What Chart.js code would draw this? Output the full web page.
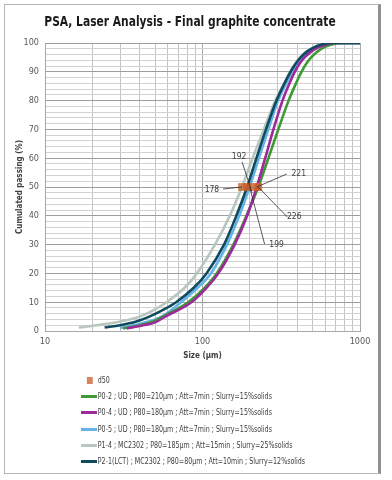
<!DOCTYPE html>
<html>
<head>
<meta charset="utf-8">
<script src="https://cdn.jsdelivr.net/npm/chart.js@4.4.1/dist/chart.umd.min.js"></script>
<style>
  html, body { margin: 0; padding: 0; background: #fff; }
  #wrap { position: relative; width: 392px; height: 480px; }
  #frame { position: absolute; left: 4px; top: 4px; width: 373px; height: 468px;
           border: 1px solid #b5b5b5; border-right: 3px solid #8f8f8f; pointer-events: none; }
  #title { position: absolute; left: -10px; top: 12px; width: 400px; text-align: center; white-space: nowrap;
           font-family: 'Liberation Sans Narrow', 'DejaVu Sans Condensed', Roboto, sans-serif;
           font-size: 14.5px; font-weight: bold; color: #1a1a1a; line-height: 18px;
           transform: scaleX(0.82); transform-origin: 200px 0; }
  #legend { position: absolute; left: 0; top: 0; width: 392px; height: 480px; pointer-events: none;
            font-family: 'Liberation Sans Narrow', 'DejaVu Sans Condensed', Roboto, sans-serif;
            font-size: 8.4px; color: #404040; }
  .row { position: absolute; left: 81px; height: 12px; line-height: 12px; white-space: nowrap;
         transform: scaleX(0.84); transform-origin: 0 0; }
  .swatch { display: inline-block; width: 19px; height: 3px; vertical-align: middle; margin-right: 1px; }
  .square { display: inline-block; width: 7px; height: 7px; margin: 0 6px 0 7px; vertical-align: middle; }
</style>
</head>
<body>
<div id="wrap">
  <canvas id="psa" width="392" height="480"></canvas>
  <div id="title">PSA, Laser Analysis - Final graphite concentrate</div>
  <div id="legend"></div>
  <div id="frame"></div>
</div>
<script>
'use strict';

// Particle size (um) vs cumulated passing (%)
var p02Size = [31.3, 40, 48, 56, 81, 103, 123, 157, 190, 226, 262, 303, 352, 385, 425, 458, 490, 535, 590, 660, 760, 1000];
var p02Pass = [0.9, 2, 3.2, 5, 10, 15, 20, 30, 40, 50, 60, 70, 80, 85, 90, 93, 95, 97, 98.5, 99.5, 100, 100];

var p04Size = [33, 42, 50, 58, 85, 106, 126, 160, 192, 221, 250, 282, 322, 350, 385, 415, 445, 490, 545, 610, 700, 1000];
var p04Pass = [0.9, 2, 3, 5, 10, 15, 20, 30, 40, 50, 60, 70, 80, 85, 90, 93, 95, 97, 98.5, 99.5, 100, 100];

var p05Size = [30, 40, 55, 73, 93, 113, 143, 171, 199, 228, 262, 302, 333, 370, 400, 430, 470, 520, 580, 660, 1000];
var p05Pass = [1, 2.5, 5, 10, 15, 20, 30, 40, 50, 60, 70, 80, 85, 90, 93, 95, 97, 98.5, 99.5, 100, 100];

var p14Size = [16.4, 22, 30, 40, 50, 59, 77, 92, 120, 149, 178, 208, 245, 290, 322, 360, 390, 418, 458, 508, 568, 650, 1000];
var p14Pass = [1.2, 2.1, 3.3, 5, 7.5, 10, 15, 20, 30, 40, 50, 60, 70, 80, 85, 90, 93, 95, 97, 98.5, 99.5, 100, 100];

var p21Size = [23.9, 30, 38, 46, 57, 68, 88, 106, 137, 164, 192, 220, 253, 295, 325, 362, 392, 420, 460, 510, 570, 650, 1000];
var p21Pass = [1.2, 2, 3.3, 5, 7.5, 10, 15, 20, 30, 40, 50, 60, 70, 80, 85, 90, 93, 95, 97, 98.5, 99.5, 100, 100];

var d50Values = [178, 192, 199, 221, 226];

var xTickValues = [10, 20, 30, 40, 50, 60, 70, 80, 90, 100, 200, 300, 400, 500, 600, 700, 800, 900, 1000];
var xTickLabels = [10, 100, 1000];

var seriesNames = [
  'P0-2 ; UD ; P80=210\u00b5m ; Att=7min ; Slurry=15%solids',
  'P0-4 ; UD ; P80=180\u00b5m ; Att=7min ; Slurry=15%solids',
  'P0-5 ; UD ; P80=180\u00b5m ; Att=7min ; Slurry=15%solids',
  'P1-4 ; MC2302 ; P80=185\u00b5m ; Att=15min ; Slurry=25%solids',
  'P2-1(LCT) ; MC2302 ; P80=80\u00b5m ; Att=10min ; Slurry=12%solids'
];

var FONT = "'Liberation Sans Narrow', 'DejaVu Sans Condensed', Roboto, sans-serif";
var seriesColors = ['#3d9a34', '#9c2a9c', '#64b2e6', '#b7c6be', '#0f4a5e'];
var markerColor = 'rgba(200, 92, 40, 0.75)';

function toPoints(xs, ys) {
  return xs.map(function (x, i) { return { x: x, y: ys[i] }; });
}

var curves = [
  toPoints(p02Size, p02Pass),
  toPoints(p04Size, p04Pass),
  toPoints(p05Size, p05Pass),
  toPoints(p14Size, p14Pass),
  toPoints(p21Size, p21Pass)
];
// draw order: gray lowest, dark teal on top
var drawOrder = [3, 2, 4, 5, 1];

var datasets = curves.map(function (pts, i) {
  return {
    label: seriesNames[i],
    data: pts,
    showLine: true,
    borderColor: seriesColors[i],
    backgroundColor: seriesColors[i],
    borderWidth: 2.6,
    pointRadius: 0,
    cubicInterpolationMode: 'monotone',
    order: drawOrder[i]
  };
});

datasets.push({
  label: 'd50',
  data: d50Values.map(function (v) { return { x: v, y: 50 }; }),
  showLine: false,
  pointStyle: 'rect',
  pointRadius: 5.5,
  backgroundColor: markerColor,
  borderWidth: 0,
  order: 0
});

// label offsets (px) from each d50 marker: text position and leader line start
var d50Labels = [
  { dx: -30, dy: 3, lx: -19, ly: 2 },
  { dx: -8, dy: -30, lx: -5, ly: -25, ex: 5, ey: 6 },
  { dx: 27, dy: 58, lx: 15, ly: 57 },
  { dx: 42, dy: -13, lx: 30, ly: -13 },
  { dx: 36, dy: 30, lx: 29, ly: 30 }
];

var d50LabelPlugin = {
  id: 'd50Labels',
  afterDatasetsDraw: function (chart) {
    var ctx = chart.ctx;
    var xs = chart.scales.x, ys = chart.scales.y;
    ctx.save();
    ctx.font = '8.5px ' + FONT;
    ctx.fillStyle = '#404040';
    ctx.strokeStyle = '#303030';
    ctx.lineWidth = 0.8;
    ctx.textAlign = 'center';
    ctx.textBaseline = 'middle';
    d50Values.forEach(function (v, i) {
      var px = xs.getPixelForValue(v), py = ys.getPixelForValue(50);
      var o = d50Labels[i];
      ctx.beginPath();
      ctx.moveTo(px + o.lx, py + o.ly);
      ctx.lineTo(px + (o.ex || 0), py + (o.ey || 0));
      ctx.stroke();
      ctx.fillText(String(v), px + o.dx, py + o.dy);
    });
    ctx.restore();
  }
};

var whiteBg = {
  id: 'whiteBg',
  beforeDraw: function (chart) {
    var ctx = chart.ctx;
    ctx.save();
    ctx.fillStyle = '#fff';
    ctx.fillRect(0, 0, chart.width, chart.height);
    ctx.restore();
  }
};

new Chart(document.getElementById('psa').getContext('2d'), {
  type: 'scatter',
  data: { datasets: datasets },
  options: {
    responsive: false,
    animation: false,
    events: [],
    layout: { padding: { left: 5, right: 32, top: 43, bottom: 116 } },
    plugins: {
      legend: { display: false },
      tooltip: { enabled: false },
      title: { display: false }
    },
    scales: {
      x: {
        type: 'logarithmic',
        min: 10,
        max: 1000,
        afterBuildTicks: function (axis) {
          axis.ticks = xTickValues.map(function (v) { return { value: v }; });
        },
        afterFit: function (axis) { axis.height = 33; },
        ticks: {
          autoSkip: false,
          maxRotation: 0,
          padding: 5,
          color: '#595959',
          font: { family: FONT, size: 9 },
          callback: function (v) { return xTickLabels.indexOf(v) >= 0 ? String(v) : ''; }
        },
        grid: {
          drawTicks: false,
          color: function (c) {
            return xTickLabels.indexOf(c.tick && c.tick.value) >= 0 ? '#a8a8a8' : '#c4c4c4';
          },
          lineWidth: 1
        },
        border: { color: '#a8a8a8' },
        title: {
          display: true,
          text: 'Size (\u00b5m)',
          color: '#404040',
          font: { family: FONT, size: 8, weight: 'bold' },
          padding: { top: 0, bottom: 3 }
        }
      },
      y: {
        min: 0,
        max: 100,
        afterBuildTicks: function (axis) {
          var t = [];
          for (var v = 0; v <= 100; v += 2) { t.push({ value: v }); }
          axis.ticks = t;
        },
        afterFit: function (axis) { axis.width = 40; },
        ticks: {
          autoSkip: false,
          padding: 6,
          color: '#595959',
          font: { family: FONT, size: 9 },
          callback: function (v) { return v % 10 === 0 ? String(v) : ''; }
        },
        grid: {
          drawTicks: false,
          color: function (c) {
            return c.tick && c.tick.value % 10 === 0 ? '#9e9e9e' : '#d2d2d2';
          },
          lineWidth: 1
        },
        border: { color: '#a8a8a8' },
        title: {
          display: true,
          text: 'Cumulated passing (%)',
          color: '#404040',
          font: { family: FONT, size: 8, weight: 'bold' },
          padding: { top: 10, bottom: 0 }
        }
      }
    }
  },
  plugins: [whiteBg, d50LabelPlugin]
});

// legend below the plot, built from the same names and colours
(function () {
  var box = document.getElementById('legend');
  var top0 = 374;
  var step = 16.2;
  var html = '<div class="row" style="top:' + top0 + 'px"><span class="square" style="background:' +
    markerColor + '"></span>d50</div>';
  seriesNames.forEach(function (name, i) {
    html += '<div class="row" style="top:' + (top0 + step * (i + 1)) + 'px"><span class="swatch" style="background:' +
      seriesColors[i] + '"></span>' + name + '</div>';
  });
  box.innerHTML = html;
})();
</script>
</body>
</html>
